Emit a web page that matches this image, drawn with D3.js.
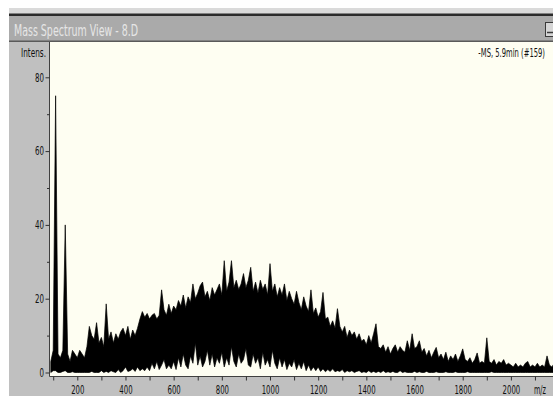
<!DOCTYPE html>
<html>
<head>
<meta charset="utf-8">
<script src="https://cdn.jsdelivr.net/npm/d3@7"></script>
<style>
  html, body { margin: 0; padding: 0; background: #fff; overflow: hidden; }
  svg { display: block; }
</style>
</head>
<body>
<svg id="chart" width="553" height="396"></svg>
<script>
// ---- spectrum data: one bin every 10 m/z, highest and lowest intensity in each bin ----
const massStart = 90;
const massStep = 10;
const peakTop = [
  3, 6, 75, 5, 4, 6, 40, 5, 3, 6,
  5, 4, 6, 5, 4, 7, 12.5, 10, 9, 13.5,
  8, 9.5, 7, 18.6, 9, 11, 8, 10.5, 9, 11,
  12, 10, 12.5, 9, 11.5, 10, 12, 14.5, 16.5, 15,
  16, 14.5, 15.5, 16, 14.5, 15.5, 22.4, 17, 15.5, 18.5,
  16, 18, 17, 19.5, 18, 21, 17.5, 20.5, 19, 24,
  20, 21.5, 23.5, 24.5, 20.5, 22, 19.5, 23, 21, 22.5,
  24, 21, 30.3, 22, 24.5, 30.3, 23, 25, 22.5, 24,
  26.8, 23, 25, 28.5, 22, 24.5, 21.5, 25, 22.5, 24,
  21, 29.5, 22, 24, 20.5, 23, 21, 24, 19.5, 22,
  20, 18.5, 22, 19, 17, 20.5, 18, 16.5, 22.4, 16,
  17.5, 15, 16.5, 21.7, 14.5, 15, 12.5, 14, 12, 17.3,
  12.5, 11, 12.5, 9.5, 11.5, 10, 11, 9, 10.5, 8.5,
  9, 7.5, 10, 8, 10.5, 13.2, 7, 6.5, 7.5, 5.5,
  7, 5, 6.5, 7.5, 5.5, 7, 6, 5.5, 8.6, 6,
  10.5, 6.5, 7, 8.6, 5.5, 6.5, 4.5, 6, 4, 5.5,
  6.8, 4, 5, 3.5, 5.5, 3, 4.5, 3.5, 5, 3,
  4.5, 6.4, 3.5, 3, 4, 2.5, 3.5, 5.3, 2.5, 3,
  2.5, 9.4, 3, 2.5, 3.5, 2, 3, 2.5, 3.5, 2,
  2.5, 2, 1.5, 2.5, 1.5, 2, 1.5, 2.5, 3, 1.5,
  2, 1.5, 2.5, 1.5, 2, 1.5, 4.5, 2, 1.5, 2.5, 1.5
];
const valleyFloor = [
  0, 0.5, 0.5, 0, 0, 0.3, 0.5, 0, 0, 0.2,
  0, 0, 0, 0, 0, 0, 0, 0.3, 0, 0,
  0, 0.5, 0, 0.3, 0, 0.5, 0.2, 0, 0.8, 0,
  0.5, 1.5, 0.3, 0.5, 1, 0.3, 1.5, 0.5, 1, 0.5,
  1.5, 0.5, 2.5, 1, 3, 0.8, 2, 3.5, 1, 2,
  1, 3, 0.8, 4, 1.5, 5, 2, 1, 4.5, 2.5,
  8, 2, 4.5, 1.5, 3, 6, 2, 5, 1.5, 4,
  2.5, 5.5, 1.5, 4, 2, 7, 3, 1.5, 5, 2.5,
  3.5, 6.5, 2, 1.5, 5, 2.5, 4, 1, 5.5, 2,
  3.5, 1.5, 6, 2.5, 1, 4, 1.5, 3.5, 0.8, 2.5,
  1.5, 3.5, 0.8, 2.5, 1, 3, 0.5, 2, 0.5, 1.5,
  0.5, 1.5, 0.3, 1, 0.2, 0.8, 0.3, 1, 0.2, 0.5,
  0.3, 0.8, 0, 0.5, 0.2, 0.5, 0, 0.3, 0.5, 0,
  0.2, 0, 0.5, 0, 0.3, 0, 0.3, 0, 0.5, 0,
  0.2, 0, 0.3, 0, 0, 0.5, 0, 0.2, 0, 0,
  0, 0.3, 0, 0.2, 0, 0, 0.3, 0, 0, 0,
  0.2, 0, 0, 0, 0.2, 0, 0, 0, 0.2, 0,
  0, 0, 0, 0.2, 0, 0, 0, 0, 0, 0,
  0, 0, 0, 0.2, 0, 0, 0, 0, 0, 0,
  0, 0, 0, 0, 0, 0, 0, 0, 0, 0,
  0, 0, 0, 0, 0, 0, 0, 0, 0, 0, 0
];

// ---- axis ticks and labels ----
const yMajorTicks = [0, 20, 40, 60, 80];
const yMinorTicks = [10, 30, 50, 70];
const xTickMasses = [100, 200, 300, 400, 500, 600, 700, 800, 900, 1000, 1100,
                     1200, 1300, 1400, 1500, 1600, 1700, 1800, 1900, 2000, 2100];
const xLabelMasses = [200, 400, 600, 800, 1000, 1200, 1400, 1600, 1800, 2000];
const windowTitle = "Mass Spectrum View - 8.D";
const scanLabel = "-MS, 5.9min (#159)";
const yAxisTitle = "Intens.";
const xAxisTitle = "m/z";

// ---- drawing ----
const W = 553, H = 396;
const FONT = "'Liberation Sans Narrow','DejaVu Sans Condensed','Arial Narrow',sans-serif";
const svg = d3.select("#chart");

const plot = { left: 50, top: 42, right: 553, bottom: 376 };

const x = d3.scaleLinear().domain([86.7, 2174.8]).range([plot.left, plot.right]);
const y = d3.scaleLinear().domain([0, 80]).range([372.5, 77.3]);

// window frame and title bar
svg.append("rect").attr("width", W).attr("height", H).attr("fill", "#ffffff");
svg.append("rect").attr("x", 9).attr("y", 8).attr("width", W - 9).attr("height", H - 8).attr("fill", "#c0c0c0");
svg.append("rect").attr("x", 9).attr("y", 8).attr("width", W - 9).attr("height", 6).attr("fill", "#dadada");
svg.append("rect").attr("x", 9).attr("y", 13.5).attr("width", W - 9).attr("height", 2.5).attr("fill", "#2b2b2b");
svg.append("rect").attr("x", 9).attr("y", 16).attr("width", W - 9).attr("height", 25).attr("fill", "#aaaaaa");
svg.append("rect").attr("x", 9).attr("y", 40.5).attr("width", W - 9).attr("height", 1.5).attr("fill", "#5a5a5a");

svg.append("text")
  .attr("x", 14).attr("y", 36)
  .attr("font-family", FONT).attr("font-size", 15)
  .attr("fill", "#e6e6e6")
  .attr("textLength", 124).attr("lengthAdjust", "spacingAndGlyphs")
  .text(windowTitle);

// small window button at the right of the title bar
svg.append("rect").attr("x", 545.5).attr("y", 22.5).attr("width", 11).attr("height", 14)
  .attr("fill", "#d6d6d6").attr("stroke", "#3a3a3a").attr("stroke-width", 1);
svg.append("line").attr("x1", 547).attr("x2", 555).attr("y1", 32.5).attr("y2", 32.5)
  .attr("stroke", "#3a3a3a").attr("stroke-width", 1.5);

// plot background
svg.append("rect")
  .attr("x", plot.left).attr("y", plot.top)
  .attr("width", plot.right - plot.left).attr("height", plot.bottom - plot.top)
  .attr("fill", "#fefef2");

svg.append("clipPath").attr("id", "plotClip")
  .append("rect")
  .attr("x", plot.left).attr("y", plot.top)
  .attr("width", plot.right - plot.left).attr("height", plot.bottom - plot.top);

// spectrum: the dense trace fills the band between each bin's floor and top
const bins = peakTop.map((top, i) => ({
  mz: massStart + i * massStep,
  top: top,
  floor: valleyFloor[i]
}));

const band = d3.area()
  .x(d => x(d.mz))
  .y0(d => y(d.floor))
  .y1(d => y(d.top));

svg.append("path")
  .datum(bins)
  .attr("clip-path", "url(#plotClip)")
  .attr("d", band)
  .attr("fill", "#000")
  .attr("stroke", "#000")
  .attr("stroke-width", 0.7)
  .attr("stroke-linejoin", "bevel");

// plot border
svg.append("line").attr("x1", 49.5).attr("x2", 49.5).attr("y1", plot.top).attr("y2", 376.5)
  .attr("stroke", "#404040").attr("stroke-width", 1);
svg.append("line").attr("x1", 49.5).attr("x2", W).attr("y1", 376.5).attr("y2", 376.5)
  .attr("stroke", "#404040").attr("stroke-width", 1);

// y axis
const yAxisG = svg.append("g").attr("transform", "translate(49.5,0)")
  .call(d3.axisLeft(y).tickValues(yMajorTicks).tickSize(4).tickPadding(1.5));
const yMinorG = svg.append("g").attr("transform", "translate(49.5,0)")
  .call(d3.axisLeft(y).tickValues(yMinorTicks).tickSize(2.5).tickFormat(""));

// x axis
const xAxisG = svg.append("g").attr("transform", "translate(0,376.5)")
  .call(d3.axisBottom(x).tickValues(xTickMasses).tickSize(4).tickPadding(5)
    .tickFormat(d => xLabelMasses.includes(d) ? String(d) : ""));

[yAxisG, yMinorG, xAxisG].forEach(g => {
  g.select(".domain").remove();
  g.selectAll(".tick line").attr("stroke", "#303030");
  g.selectAll("text")
    .attr("font-family", FONT)
    .attr("fill", "#111");
});
yAxisG.selectAll("text").attr("font-size", 12)
  .each(function () { const t = this.textContent; d3.select(this).attr("textLength", t.length * 4.5).attr("lengthAdjust", "spacingAndGlyphs"); });
xAxisG.selectAll("text").attr("font-size", 12.5)
  .each(function () { const t = this.textContent; if (t) d3.select(this).attr("textLength", t.length * 4.4).attr("lengthAdjust", "spacingAndGlyphs"); });

// axis titles and scan label
svg.append("text")
  .attr("x", 46).attr("y", 57).attr("text-anchor", "end")
  .attr("font-family", FONT).attr("font-size", 12).attr("fill", "#111")
  .attr("textLength", 25).attr("lengthAdjust", "spacingAndGlyphs")
  .text(yAxisTitle);

svg.append("text")
  .attr("x", 546).attr("y", 394).attr("text-anchor", "end")
  .attr("font-family", FONT).attr("font-size", 12).attr("fill", "#111")
  .attr("textLength", 12).attr("lengthAdjust", "spacingAndGlyphs")
  .text(xAxisTitle);

// scan label, horizontally condensed so it sits inside the right edge
svg.append("text")
  .attr("transform", "translate(545,57) scale(0.63,1)")
  .attr("text-anchor", "end")
  .attr("font-family", FONT).attr("font-size", 12).attr("fill", "#111")
  .text(scanLabel);
</script>
</body>
</html>
